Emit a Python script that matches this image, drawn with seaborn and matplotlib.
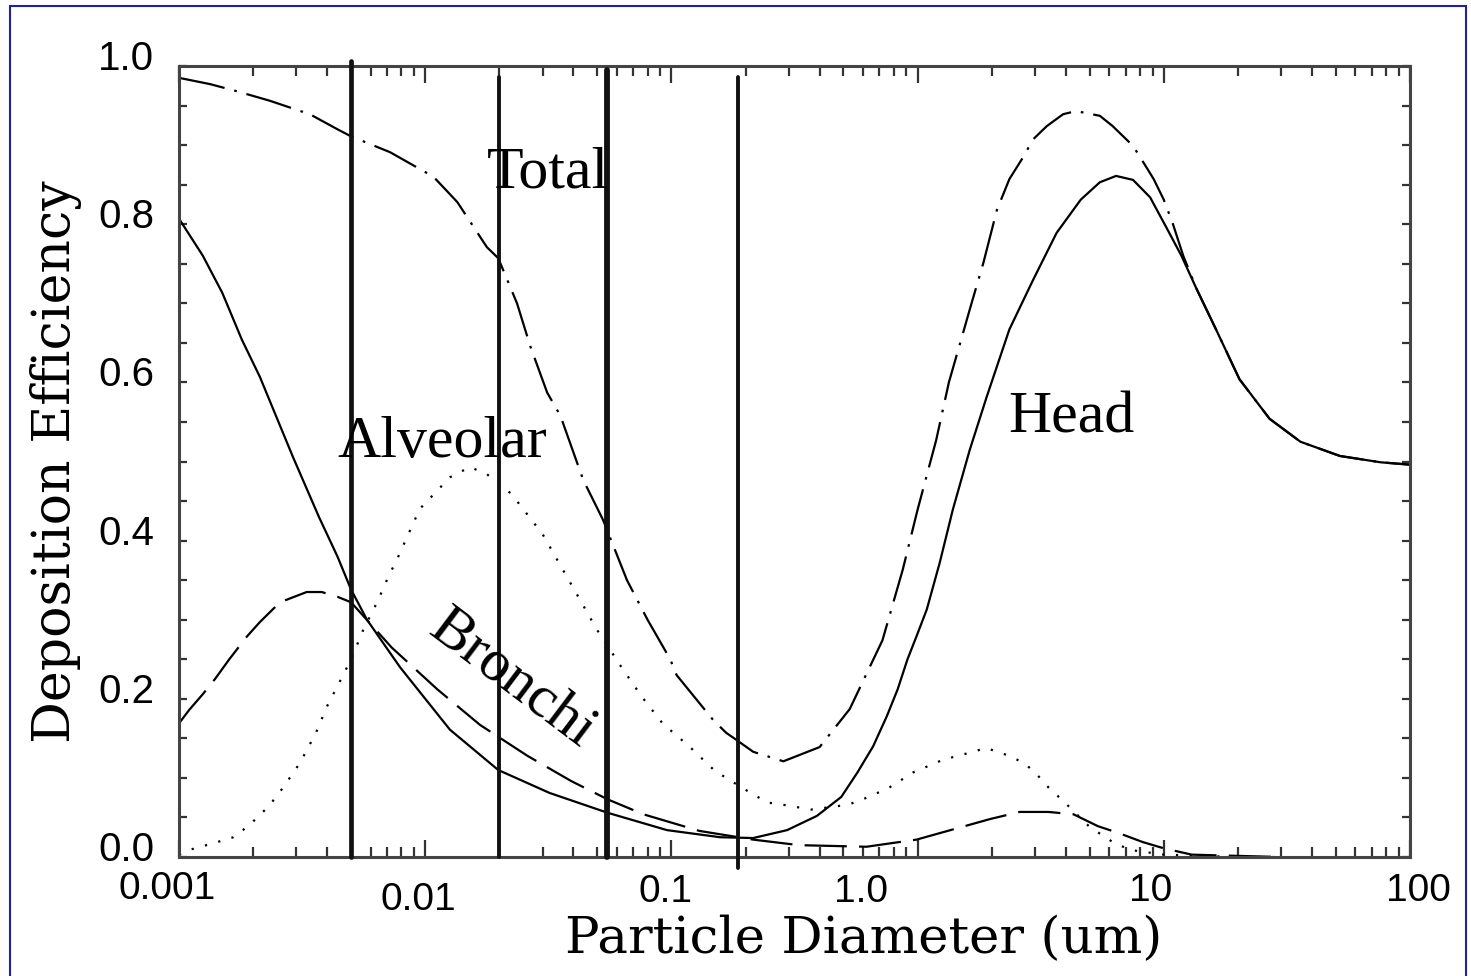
import matplotlib
matplotlib.use('Agg')
import matplotlib.pyplot as plt
import matplotlib.transforms as mtransforms
from matplotlib.patches import Rectangle
from matplotlib.ticker import MultipleLocator, FixedLocator, LogLocator, NullFormatter
import pandas as pd
import seaborn as sns

# diametro de particula (um) y eficiencia de deposicion
total_d = [0.001, 0.00134, 0.00172, 0.00234, 0.0034, 0.0044, 0.005, 0.0072, 0.0108, 0.0135,
           0.0178, 0.0198, 0.0236, 0.0267, 0.0313, 0.0354, 0.0438, 0.0528, 0.066, 0.08,
           0.0989, 0.105, 0.148, 0.167, 0.18, 0.215, 0.285, 0.40, 0.53, 0.72, 0.87, 1.0,
           1.19, 1.34, 1.66, 1.85, 2.1, 2.36, 2.7, 2.94, 3.35, 3.9, 4.4, 5.5, 6.2, 7.5,
           8.5, 9.1, 10.0, 10.9, 12.0, 13.6, 16.3, 20.3, 26.9, 35.9, 51.9, 76, 100]
total_e = [0.985, 0.977, 0.968, 0.956, 0.939, 0.920, 0.911, 0.891, 0.860, 0.828,
           0.771, 0.757, 0.700, 0.646, 0.587, 0.558, 0.477, 0.426, 0.350, 0.300,
           0.250, 0.230, 0.173, 0.157, 0.150, 0.133, 0.121, 0.139, 0.187, 0.274, 0.363, 0.439,
           0.527, 0.600, 0.701, 0.751, 0.818, 0.857, 0.886, 0.907, 0.924, 0.939, 0.943, 0.937, 0.924, 0.899,
           0.872, 0.857, 0.831, 0.800, 0.760, 0.718, 0.667, 0.604, 0.554, 0.525, 0.507, 0.499, 0.496]

head_d = [0.001, 0.00125, 0.0015, 0.0018, 0.00213, 0.0029, 0.0037, 0.0044, 0.005, 0.0058,
          0.0079, 0.0126, 0.0198, 0.032, 0.055, 0.096, 0.158, 0.215, 0.295, 0.39,
          0.49, 0.57, 0.66, 0.75, 0.83, 0.91, 0.99, 1.09, 1.23, 1.39, 1.63, 1.91,
          2.36, 2.94, 3.67, 4.6, 5.5, 6.4, 7.5, 8.8, 10.2, 11.8, 13.6, 16.3, 20.3,
          26.9, 35.9, 51.9, 76, 100]
head_e = [0.807, 0.760, 0.713, 0.654, 0.607, 0.506, 0.430, 0.380, 0.338, 0.300,
          0.240, 0.161, 0.110, 0.081, 0.056, 0.034, 0.025, 0.024, 0.034, 0.052,
          0.076, 0.107, 0.140, 0.178, 0.212, 0.250, 0.279, 0.313, 0.372, 0.439, 0.515, 0.582,
          0.667, 0.729, 0.789, 0.831, 0.853, 0.861, 0.856, 0.834, 0.797, 0.760, 0.718, 0.667, 0.604,
          0.554, 0.525, 0.507, 0.499, 0.496]

alveolar_d = [0.001, 0.0011, 0.0014, 0.00166, 0.00189, 0.0021, 0.00234, 0.00265, 0.0031, 0.0036,
              0.004, 0.0045, 0.005, 0.0056, 0.0064, 0.0071, 0.0077, 0.0095, 0.0126, 0.0152,
              0.0178, 0.0224, 0.030, 0.0398, 0.0497, 0.063, 0.0757, 0.092, 0.119, 0.150,
              0.195, 0.245, 0.285, 0.37, 0.52, 0.60, 0.76, 0.96, 1.27, 1.68, 1.9, 2.1,
              2.36, 2.73, 3.04, 3.4, 3.9, 5.0, 6.2, 7.3, 10, 20, 30]
alveolar_e = [0.003, 0.009, 0.018, 0.025, 0.038, 0.051, 0.066, 0.088, 0.119, 0.157,
              0.191, 0.222, 0.250, 0.287, 0.323, 0.355, 0.377, 0.440, 0.480, 0.493,
              0.484, 0.459, 0.408, 0.341, 0.288, 0.239, 0.203, 0.169, 0.139, 0.109,
              0.087, 0.069, 0.066, 0.060, 0.066, 0.073, 0.087, 0.107, 0.123, 0.133, 0.138, 0.133,
              0.128, 0.118, 0.105, 0.088, 0.071, 0.038, 0.019, 0.009, 0.003, 0.0, 0.0]

bronchi_d = [0.001, 0.0011, 0.00125, 0.0014, 0.0016, 0.00189, 0.00213, 0.00257, 0.0033, 0.0038,
             0.0044, 0.005, 0.0073, 0.0112, 0.0167, 0.026, 0.0392, 0.055, 0.077, 0.13,
             0.215, 0.33, 0.62, 0.99, 1.36, 1.97, 2.6, 3.4, 4.3, 5.4, 6.6, 8.2, 10, 13, 30]
bronchi_e = [0.169, 0.186, 0.206, 0.225, 0.250, 0.279, 0.297, 0.322, 0.335, 0.335,
             0.329, 0.322, 0.265, 0.212, 0.167, 0.128, 0.096, 0.073, 0.054, 0.033,
             0.022, 0.015, 0.013, 0.022, 0.034, 0.048, 0.057, 0.057, 0.054, 0.039, 0.030, 0.019, 0.011, 0.003, 0.0]

limites = [0.005, 0.02, 0.055, 0.187]
x_ticks = [0.001, 0.01, 0.1, 1, 10, 100]
x_tick_labels = ['0.001', '0.01', '0.1', '1.0', '10', '100']
y_ticks = [0.0, 0.2, 0.4, 0.6, 0.8, 1.0]


def armar_tabla():
    partes = []
    for nombre, d, e in [('Total', total_d, total_e), ('Head', head_d, head_e),
                         ('Alveolar', alveolar_d, alveolar_e), ('Bronchi', bronchi_d, bronchi_e)]:
        partes.append(pd.DataFrame({'diametro': d, 'eficiencia': e, 'region': nombre}))
    return pd.concat(partes, ignore_index=True)


sns.set_style('ticks')
plt.rcParams['font.family'] = ['Liberation Sans', 'DejaVu Sans']
plt.rcParams['text.color'] = 'black'
plt.rcParams['axes.labelcolor'] = 'black'

fig = plt.figure(figsize=(14.71, 9.76), dpi=100)
ax = fig.add_axes([0.1217, 0.1219, 0.8368, 0.8105])
ax.set_xscale('log')

datos = armar_tabla()
estilos = {'Total': (21, 4.5, 1.2, 4.5), 'Head': '', 'Alveolar': (1.0, 5.2), 'Bronchi': (19, 5.5)}
sns.lineplot(data=datos, x='diametro', y='eficiencia', hue='region', style='region',
             palette={k: 'black' for k in estilos}, dashes=estilos, estimator=None,
             legend=False, linewidth=1.6, ax=ax)

# lineas verticales de separacion
anchos = [3.4, 2.8, 4.2, 2.8]
extremos = [(0, 1.006), (0, 0.986), (0, 0.995), (-0.014, 0.986)]
for x, w, (y0, y1) in zip(limites, anchos, extremos):
    ax.axvline(x, ymin=y0, ymax=y1, color='#111111', lw=w, clip_on=False, zorder=3)

ax.set_xlim(0.001, 100)
ax.set_ylim(0, 1)
ax.xaxis.set_major_locator(FixedLocator(x_ticks))
ax.set_xticklabels(x_tick_labels)
ax.xaxis.set_minor_locator(LogLocator(base=10, subs=range(2, 10)))
ax.xaxis.set_minor_formatter(NullFormatter())
ax.yaxis.set_major_locator(FixedLocator(y_ticks))
ax.set_yticklabels([f'{v:.1f}' for v in y_ticks])
ax.yaxis.set_minor_locator(MultipleLocator(0.05))

ax.tick_params(which='both', direction='in', top=True, right=True, color='#333333',
               width=1.6, labelcolor='black')
ax.tick_params(axis='x', which='major', length=12, pad=12, labelsize=28)
ax.tick_params(axis='x', which='minor', length=7)
ax.tick_params(axis='y', which='both', length=6, pad=18, labelsize=29)
for lado in ax.spines.values():
    lado.set_color('#444444')
    lado.set_linewidth(2.2)

ax.set_xlabel('Particle Diameter (um)', fontsize=37, family='DejaVu Serif')
ax.set_ylabel('Deposition Efficiency', fontsize=37.5, family='DejaVu Serif')
ax.xaxis.set_label_coords(0.556, -0.073)
ax.yaxis.set_label_coords(-0.079, 0.5)

fuente = dict(family='Liberation Serif', fontsize=43, color='black')
ax.text(0.0316, 0.847, 'Total', ha='center', va='baseline', **fuente)
ax.text(4.2, 0.537, 'Head', ha='center', va='baseline', **fuente)
ax.text(0.0117, 0.506, 'Alveolar', ha='center', va='baseline', **fuente)
ax.text(0.0225, 0.224, 'Bronchi', ha='center', va='center', rotation=-37,
        rotation_mode='anchor', **fuente)

# pequenos corrimientos de las etiquetas como en la imagen original
fig.canvas.draw()
desp_x = [(-12, 3), (-7, -8), (-6, 0), (-57, 0), (-13, 1), (8, 1)]
for etiqueta, (dx, dy) in zip(ax.get_xticklabels(), desp_x):
    etiqueta.set_transform(etiqueta.get_transform() +
                           mtransforms.ScaledTranslation(dx / 100, dy / 100, fig.dpi_scale_trans))
for etiqueta in ax.get_yticklabels():
    etiqueta.set_transform(etiqueta.get_transform() +
                           mtransforms.ScaledTranslation(0, 11 / 100, fig.dpi_scale_trans))

# marco azul de la imagen
fig.add_artist(Rectangle((10 / 1471, -0.02), 1456 / 1471, 1 - 6 / 976 + 0.02,
                         transform=fig.transFigure, fill=False, edgecolor='#1f1fa8', lw=1.5))

fig.savefig('out.png', dpi=100)
